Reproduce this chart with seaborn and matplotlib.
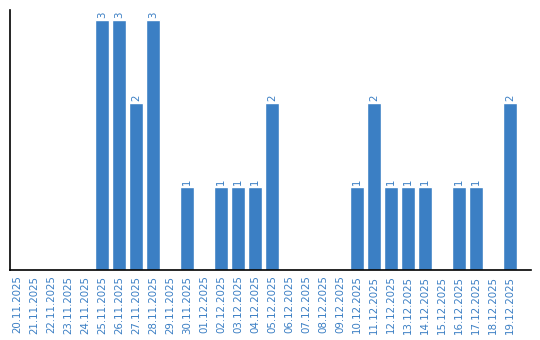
import matplotlib
matplotlib.use("Agg")
import matplotlib.pyplot as plt
import seaborn as sns
import pandas as pd

dates = ["20.11.2025", "21.11.2025", "22.11.2025", "23.11.2025", "24.11.2025",
         "25.11.2025", "26.11.2025", "27.11.2025", "28.11.2025", "29.11.2025",
         "30.11.2025", "01.12.2025", "02.12.2025", "03.12.2025", "04.12.2025",
         "05.12.2025", "06.12.2025", "07.12.2025", "08.12.2025", "09.12.2025",
         "10.12.2025", "11.12.2025", "12.12.2025", "13.12.2025", "14.12.2025",
         "15.12.2025", "16.12.2025", "17.12.2025", "18.12.2025", "19.12.2025"]
counts = [0, 0, 0, 0, 0, 3, 3, 2, 3, 0,
          1, 0, 1, 1, 1, 2, 0, 0, 0, 0,
          1, 2, 1, 1, 1, 0, 1, 1, 0, 2]

color = "#3b7fc4"
sns.set_style("white")
plt.rcParams['font.family'] = ['DejaVu Sans']

df = pd.DataFrame({"date": dates, "count": counts})
fig = plt.figure(figsize=(5.4, 3.4), dpi=100)
ax = fig.add_axes([10/540, 70/340, 521/540, 260/340])
sns.barplot(data=df, x="date", y="count", color=color, saturation=1, width=0.82, ax=ax)

labels = [str(v) if v else "" for v in counts]
ax.bar_label(ax.containers[0], labels=labels, rotation=90, padding=1.5,
             color=color, fontsize=7.4)

ax.set_xlim(-0.41, 30.24)
ax.set_ylim(0, 3.12)
ax.set_xlabel("")
ax.set_ylabel("")
ax.set_yticks([])
ax.tick_params(axis="x", length=0, pad=4, labelsize=7.4, labelcolor=color)
for lbl in ax.get_xticklabels():
    lbl.set_rotation(90)
for s in ["top", "right"]:
    ax.spines[s].set_visible(False)
for s in ["left", "bottom"]:
    ax.spines[s].set_color("black")
    ax.spines[s].set_linewidth(1.2)

fig.savefig("out.png", dpi=100)
